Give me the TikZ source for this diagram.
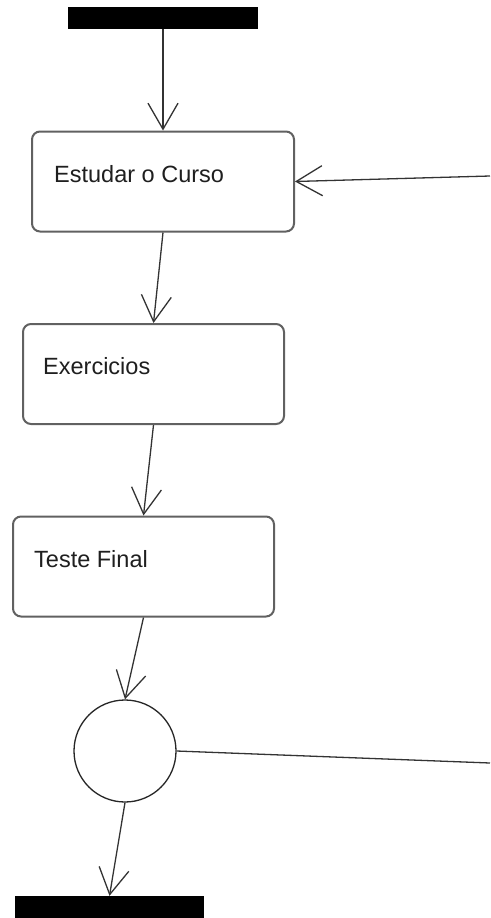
\documentclass[tikz,border=0pt]{standalone}
\usepackage{fontspec}
\setmainfont{Liberation Sans}
\usetikzlibrary{arrows.meta}
\begin{document}
\begin{tikzpicture}[x=1pt,y=-1pt,
  activity/.style={draw=black!62,line width=2pt,rounded corners=8pt,fill=white,
    minimum width=#1,minimum height=100pt,inner sep=0pt},
  label/.style={anchor=base west,inner sep=0pt,text=black!88,
    font=\fontsize{23.5}{26}\selectfont},
  bar/.style={fill=black,draw=none,minimum width=190pt,minimum height=22pt,inner sep=0pt},
  flow/.style={draw=black!80,line width=1.3pt,
    -{Straight Barb[length=26pt,width=30pt,line width=1.3pt]}},
  link/.style={draw=black!80,line width=1.3pt}]
\useasboundingbox (0,0) rectangle (490,918);
\fill[white] (0,0) rectangle (490,918);

% start and end bars
\node[bar] (start) at (163,18) {};
\node[bar,minimum height=24pt,minimum width=189pt] (stop) at (109.5,908) {};

% activities
\node[activity=262pt] (b1) at (163,181.5) {};
\node[activity=261pt] (b2) at (153.5,374) {};
\node[activity=261pt] (b3) at (143.5,566.5) {};
\node[label] (t1) at (54,182) {Estudar o Curso};
\node[label] (t2) at (43,374) {Exercicios};
\node[label] (t3) at (34,567) {Teste Final};

% decision circle
\node[circle,draw=black!85,line width=1.3pt,minimum size=102pt,inner sep=0pt,fill=white] (dec) at (125,751) {};

% loose ends leaving the picture on the right
\coordinate (back) at (490,176);
\coordinate (out) at (490,763);

% flows
\draw[flow] (start.south) -- (b1.north);
\draw[flow] (b1.south) -- (b2.north);
\draw[flow] (b2.south) -- (b3.north);
\draw[flow] (b3.south) -- (dec.north);
\draw[flow] (dec.south) -- (stop.north);
\draw[flow] (back) -- (b1.east);
\draw[link] (dec.east) -- (out);
\end{tikzpicture}
\end{document}
